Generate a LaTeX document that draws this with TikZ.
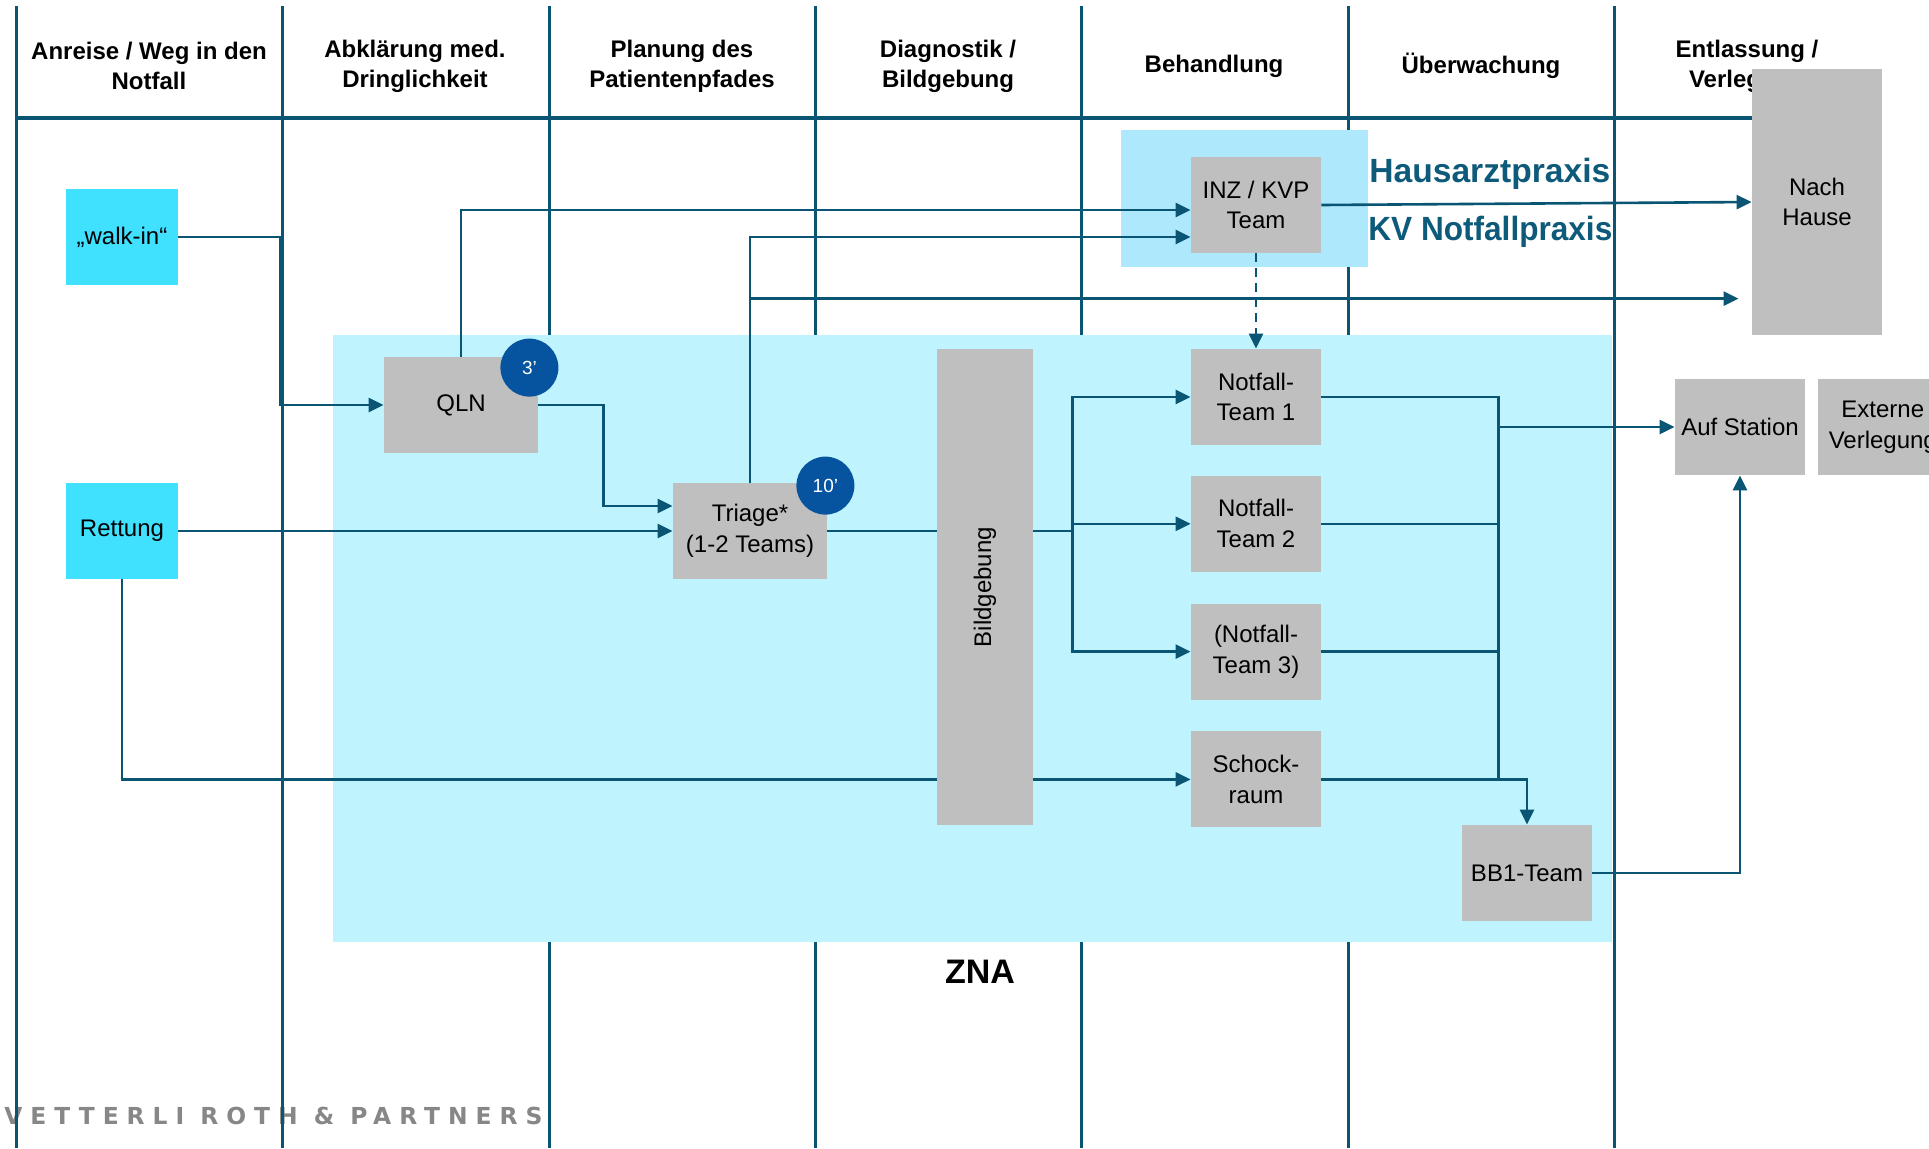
\documentclass[tikz,border=0pt]{standalone}
\usepackage{fontspec}
\setmainfont{Liberation Sans}
\newfontfamily\logofont[LetterSpace=34]{DejaVu Sans Bold}
\usepackage{tikz}
\usetikzlibrary{positioning,arrows.meta,calc}
\definecolor{lane}{HTML}{0A5573}
\definecolor{entry}{HTML}{40E0FF}
\definecolor{zna}{HTML}{BFF4FE}
\definecolor{kvp}{HTML}{AEE8FD}
\definecolor{proc}{HTML}{BFBFBF}
\definecolor{tmark}{HTML}{0654A0}
\definecolor{title}{HTML}{0D5A7A}
\tikzset{
  box/.style={fill=proc, inner sep=0pt, align=center, font=\fontsize{12}{15.4}\selectfont,
              minimum width=65pt, minimum height=48pt},
  entrybox/.style={box, fill=entry, minimum width=56pt},
  hdr/.style={align=center, font=\fontsize{12}{15}\selectfont\bfseries},
  link/.style={lane, line width=1.3pt},
  arr/.style={link, -{Triangle[length=7.5pt,width=7pt]}},
  tmin/.style={circle, fill=tmark, text=white, inner sep=0pt, minimum size=29pt,
               font=\fontsize{9.5}{10}\selectfont},
  kvtext/.style={anchor=base west, inner sep=0pt, text=title,
                 font=\fontsize{16.8}{20}\selectfont\bfseries},
}
\begin{document}
\begin{tikzpicture}[x=0.5pt, y=-0.5pt, node distance=15.5pt and 6pt]
  \useasboundingbox (0,0) rectangle (1929,1148);
  \node[anchor=base west, inner sep=0pt, text=black!47, font=\logofont\fontsize{11.7}{14}\selectfont]
    (logo) at (4,1124) {VETTERLI ROTH \& PARTNERS};
  % lanes
  \draw[lane, line width=1.5pt] (16,6) -- (16,1148) (282,6) -- (282,1148)
    (549,6) -- (549,1148) (815,6) -- (815,1148) (1081,6) -- (1081,1148)
    (1348,6) -- (1348,1148) (1614,6) -- (1614,1148);
  \draw[lane, line width=2pt] (16,118) -- (1752,118);
  \node[hdr] (h1) at (149,66) {Anreise / Weg in den\\Notfall};
  \node[hdr] (h2) at (415,66) {Abklärung med.\\Dringlichkeit};
  \node[hdr] (h3) at (682,66) {Planung des\\Patientenpfades};
  \node[hdr] (h4) at (948,66) {Diagnostik /\\Bildgebung};
  \node[hdr] (h5) at (1214,66) {Behandlung};
  \node[hdr] (h6) at (1481,66) {Überwachung};
  \node[hdr] (h7) at (1747,66) {Entlassung /\\Verlegung};
  % areas
  \fill[zna] (333,335) rectangle (1612,942);
  \fill[kvp] (1121,130) rectangle (1368,267);
  \node[anchor=base, font=\fontsize{17}{20}\selectfont\bfseries] (zna) at (980,983) {ZNA};
  \node[kvtext] (haus) at (1369,182) {Hausarztpraxis};
  \node[kvtext] (kv) at (1368,240) {\scalebox{0.94}[1]{KV Notfallpraxis}};
  % boxes
  \node[entrybox] (walkin) at (122,237) {„walk-in“};
  \node[entrybox] (rettung) at (122,531) {Rettung};
  \node[box, minimum width=77pt] (qln) at (461,405) {QLN};
  \node[box, minimum width=77pt] (triage) at (750,531) {Triage*\\(1-2 Teams)};
  \node[box, minimum width=48pt, minimum height=238pt] (bild) at (985,587) {};
  \node[rotate=90, font=\fontsize{12}{15.4}\selectfont] (bildtxt) at (bild) {Bildgebung};
  \node[box] (inz) at (1256,205) {INZ / KVP\\Team};
  \node[box] (team1) at (1256,397) {Notfall-\\Team 1};
  \node[box, below=15pt of team1] (team2) {Notfall-\\Team 2};
  \node[box, below=of team2] (team3) {(Notfall-\\Team 3)};
  \node[box, below=of team3] (schock) {Schock-\\raum};
  \node[box] (bb1) at (1527,873) {BB1-Team};
  \node[box, minimum height=133pt] (nachhause) at (1817,202) {Nach\\Hause};
  \node[box] (auf) at (1740,427) {Auf Station};
  \node[box, right=of auf] (extern) {Externe\\Verlegung};
  % connectors
  \draw[arr] (walkin.east) -- ++(102,0) |- (qln.west);
  \draw[arr] (qln.north) |- ([yshift=-2.5pt]inz.west);
  \draw[arr] (qln.east) -- ++(65,0) |- ([yshift=12.5pt]triage.west);
  \draw[arr] (rettung.east) -- (triage.west);
  \draw[arr] (triage.north) |- ([yshift=-16pt]inz.west);
  \coordinate (home) at ($(triage.north)+(0,-184)$);
  \draw[arr] (home) -- ([xshift=-6.5pt]home -| nachhause.west);
  \draw[link] (triage.east) -- (triage.east -| bild.west);
  \draw[link] (triage.east -| bild.east) -- ++(39,0) coordinate (fan);
  \draw[arr] (fan) |- (team1.west);
  \draw[arr] (fan) |- (team2.west);
  \draw[arr] (fan) |- (team3.west);
  \draw[link] (rettung.south) |- (schock.west -| bild.west);
  \draw[arr] (schock.west -| bild.east) -- (schock.west);
  \draw[arr, dash pattern=on 4.5pt off 3pt] (inz.south) -- (team1.north);
  \draw[arr] (inz.east) -- (nachhause.west);
  \draw[link] (team1.east) -- ++(177,0) coordinate (bus) -- (bus |- schock.east);
  \draw[link] (team2.east) -- (team2.east -| bus);
  \draw[link] (team3.east) -- (team3.east -| bus);
  \draw[arr] (schock.east) -| (bb1.north);
  \draw[arr] (bus |- auf.west) -- (auf.west);
  \draw[arr] (bb1.east) -| (auf.south);
  % time marks
  \node[tmin] (t3) at ([shift={(-9,11)}]qln.north east) {3'};
  \node[tmin] (t10) at ([shift={(-2,3)}]triage.north east) {10'};
\end{tikzpicture}
\end{document}
